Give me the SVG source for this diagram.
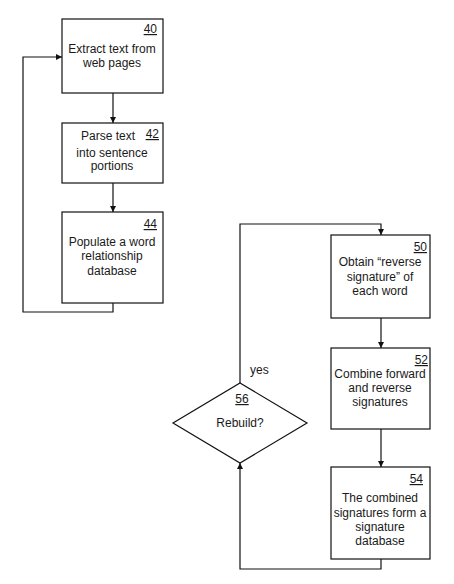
<svg xmlns="http://www.w3.org/2000/svg" width="454" height="584" viewBox="0 0 454 584">
<defs>
<marker id="ah" viewBox="0 0 6 6" refX="6" refY="3" markerWidth="6" markerHeight="6" markerUnits="userSpaceOnUse" orient="auto">
<path d="M0,0 L6,3 L0,6 Z" fill="#111"/>
</marker>
<style>
.box{fill:#fff;stroke:#111;stroke-width:1.2}
.ln{fill:none;stroke:#111;stroke-width:1.2}
text{font-family:"Liberation Sans",Arial,sans-serif;font-size:12px;fill:#1a1a1a}
.c{text-anchor:middle}
.n{text-anchor:end;text-decoration:underline}
</style>
</defs>
<rect width="454" height="584" fill="#fff"/>
<g id="connectors">
<line class="ln" x1="113" y1="93" x2="113" y2="123" marker-end="url(#ah)"/>
<line class="ln" x1="113" y1="183" x2="113" y2="212" marker-end="url(#ah)"/>
<polyline class="ln" points="113,303 113,312 23,312 23,57 62,57" marker-end="url(#ah)"/>
<polyline class="ln" points="240,383 240,224 381,224 381,235" marker-end="url(#ah)"/>
<line class="ln" x1="381" y1="318" x2="381" y2="348" marker-end="url(#ah)"/>
<line class="ln" x1="381" y1="429" x2="381" y2="467" marker-end="url(#ah)"/>
<polyline class="ln" points="381,559 381,569 240,569 240,463" marker-end="url(#ah)"/>
<text x="250" y="374">yes</text>
</g>
<g id="n40">
<rect class="box" x="62" y="19" width="101" height="74"/>
<text class="n" x="157" y="33">40</text>
<text class="c" x="112" y="53">Extract text from</text>
<text class="c" x="112" y="67">web pages</text>
</g>
<g id="n42">
<rect class="box" x="62" y="123" width="101" height="60"/>
<text class="n" x="159" y="138">42</text>
<text class="c" x="108" y="140">Parse text</text>
<text class="c" x="112" y="157">into sentence</text>
<text class="c" x="112" y="170">portions</text>
</g>
<g id="n44">
<rect class="box" x="62" y="212" width="101" height="91"/>
<text class="n" x="157" y="228">44</text>
<text class="c" x="112" y="246">Populate a word</text>
<text class="c" x="112" y="260">relationship</text>
<text class="c" x="112" y="275">database</text>
</g>
<g id="n50">
<rect class="box" x="331" y="235" width="99" height="83"/>
<text class="n" x="427" y="251">50</text>
<text class="c" x="380" y="266">Obtain “reverse</text>
<text class="c" x="380" y="281">signature” of</text>
<text class="c" x="380" y="295">each word</text>
</g>
<g id="n52">
<rect class="box" x="331" y="348" width="99" height="81"/>
<text class="n" x="428" y="364">52</text>
<text class="c" x="380" y="378">Combine forward</text>
<text class="c" x="380" y="392">and reverse</text>
<text class="c" x="380" y="406">signatures</text>
</g>
<g id="n54">
<rect class="box" x="331" y="467" width="99" height="92"/>
<text class="n" x="423" y="483">54</text>
<text class="c" x="380" y="502">The combined</text>
<text class="c" x="380" y="517">signatures form a</text>
<text class="c" x="380" y="531">signature</text>
<text class="c" x="380" y="545">database</text>
</g>
<g id="n56">
<polygon class="box" points="240,383 307,423 240,463 173,423"/>
<text class="c" x="242" y="403" style="text-decoration:underline">56</text>
<text class="c" x="240" y="427">Rebuild?</text>
</g>
</svg>
